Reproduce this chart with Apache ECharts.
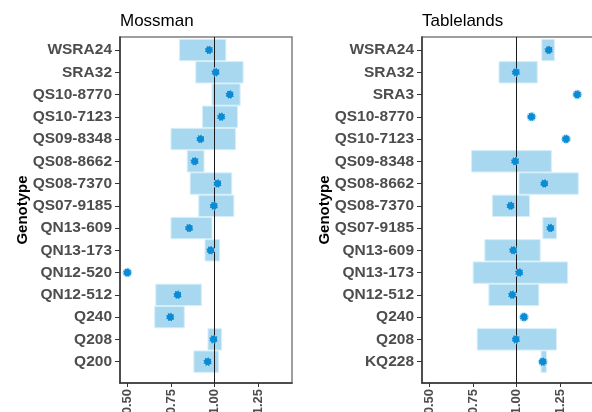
<!DOCTYPE html>
<html><head><meta charset="utf-8">
<script src="https://cdn.jsdelivr.net/npm/echarts@6/dist/echarts.min.js"></script>
<style>html,body{margin:0;padding:0;background:#fff}#c{width:592px;height:412px}</style>
</head><body><div id="c"></div>
<script>
const mossCats = ['WSRA24','SRA32','QS10-8770','QS10-7123','QS09-8348','QS08-8662','QS08-7370','QS07-9185','QN13-609','QN13-173','QN12-520','QN12-512','Q240','Q208','Q200'];
const mossEst  = [0.968,1.006,1.087,1.038,0.919,0.886,1.017,0.996,0.854,0.977,0.500,0.788,0.746,0.994,0.960];
const mossLow  = [0.799,0.892,0.985,0.930,0.750,0.843,0.860,0.909,0.750,0.945,null,0.663,0.657,0.962,0.881];
const mossHigh = [1.064,1.163,1.146,1.131,1.119,0.939,1.098,1.110,0.985,1.028,null,0.924,0.826,1.040,1.023];

const tabCats = ['WSRA24','SRA32','SRA3','QS10-8770','QS10-7123','QS09-8348','QS08-8662','QS08-7370','QS07-9185','QN13-609','QN13-173','QN12-512','Q240','Q208','KQ228'];
const tabEst  = [1.184,0.996,1.347,1.085,1.283,0.992,1.159,0.966,1.194,0.981,1.015,0.975,1.042,0.996,1.150];
const tabLow  = [1.144,0.899,null,null,null,0.742,1.013,0.861,1.150,0.818,0.751,0.841,null,0.774,1.140];
const tabHigh = [1.216,1.118,null,null,null,1.199,1.353,1.074,1.228,1.135,1.292,1.127,null,1.228,1.171];

const xTicks = [0.5,0.75,1.0,1.25];
const panelTitles = ['Mossman','Tablelands'];
const yTitle = 'Genotype';

const panels = [
  {cats: mossCats, est: mossEst, low: mossLow, high: mossHigh, left: 120, gap: 90},
  {cats: tabCats, est: tabEst, low: tabLow, high: tabHigh, left: 422, gap: 90}
];

const chart = echarts.init(document.getElementById('c'), null, {renderer:'canvas'});
const grids=[], xAxes=[], yAxes=[], series=[], titles=[];
panels.forEach((p, k) => {
  grids.push({left: p.left, top: 37, width: 172, height: 346, containLabel: false, outerBoundsMode: 'none',
    show: true, borderColor: '#7f7f7f', borderWidth: 1.5, backgroundColor: '#fff'});
  titles.push({text: panelTitles[k], left: p.left, top: 13, padding: 0, textStyle: {fontFamily: 'Liberation Sans, Arial', fontSize: 17, fontWeight: 'normal', color: '#000'}});
  xAxes.push({
    type: 'value', gridIndex: k, min: 0.458, max: 1.443,
    axisLine: {show: true, onZero: false, lineStyle: {color: '#333', width: 1.5}},
    axisTick: {show: true, length: 4, customValues: xTicks, lineStyle: {color: '#333'}},
    axisLabel: {show: true, customValues: xTicks, rotate: 90, margin: 6, color: '#4d4d4d', fontFamily: 'Liberation Sans, Arial', fontWeight: 'bold', fontSize: 13, formatter: v => v.toFixed(2)},
    splitLine: {show: false}
  });
  const idx = p.cats.map((c, i) => i);
  yAxes.push({
    type: 'value', gridIndex: k, inverse: true, min: -0.584, max: 14.96,
    name: yTitle, nameLocation: 'middle', nameGap: p.gap, nameRotate: 90, nameMoveOverlap: false,
    nameTextStyle: {fontFamily: 'Liberation Sans, Arial', fontWeight: 'bold', fontSize: 15, color: '#000'},
    axisLine: {show: true, onZero: false, lineStyle: {color: '#333', width: 1.5}},
    axisTick: {show: true, length: 5, customValues: idx, lineStyle: {color: '#333'}},
    axisLabel: {show: true, customValues: idx, margin: 8, color: '#4d4d4d', fontFamily: 'Liberation Sans, Arial', fontWeight: 'bold', fontSize: 15.5, formatter: v => p.cats[Math.round(v)]},
    splitLine: {show: false}
  });
  const barData = [];
  p.cats.forEach((c, i) => { if (p.low[i] != null) barData.push([p.low[i], p.high[i], i]); });
  series.push({
    type: 'custom', xAxisIndex: k, yAxisIndex: k, clip: true,
    data: barData,
    renderItem: (params, api) => {
      const a = api.coord([api.value(0), api.value(2) - 0.48]);
      const b = api.coord([api.value(1), api.value(2) + 0.48]);
      return {type: 'rect', shape: {x: a[0], y: Math.min(a[1], b[1]), width: b[0] - a[0], height: Math.abs(b[1] - a[1])},
        style: {fill: '#a7d8ef', stroke: '#d6eef9', lineWidth: 1}};
    },
    z: 2
  });
  series.push({
    type: 'scatter', xAxisIndex: k, yAxisIndex: k,
    data: p.est.map((v, i) => [v, i]),
    symbol: 'circle', symbolSize: 8.5,
    itemStyle: {color: '#0a8bd3', borderColor: '#b5def4', borderWidth: 1.5, borderType: 'dotted', opacity: 1},
    z: 4,
    markLine: {silent: true, symbol: 'none', label: {show: false}, lineStyle: {color: '#1a1a1a', width: 1, type: 'solid'}, data: [{xAxis: 1}], z: 3}
  });
});

chart.setOption({
  animation: false,
  title: titles,
  grid: grids, xAxis: xAxes, yAxis: yAxes, series: series
});
</script></body></html>
